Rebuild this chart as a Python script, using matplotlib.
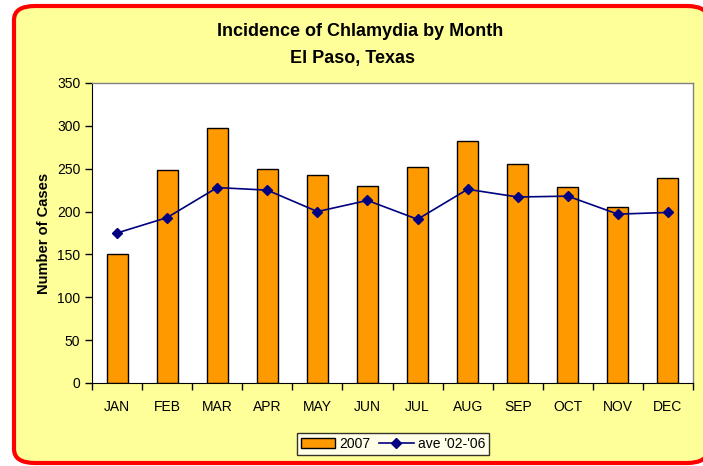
import matplotlib
matplotlib.use("Agg")
import matplotlib.pyplot as plt
from matplotlib.patches import FancyBboxPatch
from matplotlib.lines import Line2D
from matplotlib.patches import Patch
import numpy as np

months = ["JAN", "FEB", "MAR", "APR", "MAY", "JUN",
          "JUL", "AUG", "SEP", "OCT", "NOV", "DEC"]
cases_2007 = [150, 249, 298, 250, 243, 230, 252, 282, 255, 229, 205, 239]
ave_02_06 = [175, 193, 228, 225, 200, 213, 191, 226, 217, 218, 197, 199]

plt.rcParams["font.family"] = ["Liberation Sans", "DejaVu Sans"]

fig = plt.figure(figsize=(7.03, 4.66), dpi=100)
fig.patch.set_facecolor("white")

# rounded yellow chart area with red border (right edge runs off the image)
frame = FancyBboxPatch((14 / 703, 3 / 466), 694 / 703, 457 / 466,
                       boxstyle="round,pad=0,rounding_size=0.03",
                       transform=fig.transFigure, facecolor="#FFFF99",
                       edgecolor="#FF0000", linewidth=3, zorder=-1)
fig.patches.append(frame)

ax = fig.add_axes([92 / 703, 1 - 383 / 466, 601 / 703, 300 / 466])
ax.set_zorder(1)
ax.set_facecolor("white")

x = np.arange(len(months))
ax.bar(x, cases_2007, width=0.42, color="#FF9900", edgecolor="black",
       linewidth=1, zorder=2)
ax.plot(x, ave_02_06, color="#000080", marker="D", markersize=5,
        linewidth=1.2, zorder=3)

ax.set_xlim(-0.5, len(months) - 0.5)
ax.set_ylim(0, 350)
ax.set_yticks(range(0, 351, 50))
ax.set_xticks(x)
ax.set_xticklabels(months, fontsize=10)
ax.set_xticks(np.arange(-0.5, len(months), 1), minor=True)
ax.tick_params(axis="x", which="major", length=0, pad=12)
ax.tick_params(axis="x", which="minor", length=5, direction="out", width=1)
ax.tick_params(axis="y", length=5, direction="out", width=1, labelsize=10)

for side in ["top", "right"]:
    ax.spines[side].set_color("#808080")
    ax.spines[side].set_linewidth(1)
ax.spines["left"].set_color("black")
ax.spines["bottom"].set_color("black")

ax.set_ylabel("Number of Cases", fontsize=10.5, fontweight="bold", labelpad=4)

fig.text(360 / 703, 1 - 32 / 466, "Incidence of Chlamydia by Month",
         ha="center", va="center", fontsize=13, fontweight="bold")
fig.text(353 / 703, 1 - 58 / 466, "El Paso, Texas",
         ha="center", va="center", fontsize=13, fontweight="bold")

handles = [Patch(facecolor="#FF9900", edgecolor="black", label="2007"),
           Line2D([0], [0], color="#000080", marker="D", markersize=5,
                  linewidth=1.2, label="ave '02-'06")]
leg = fig.legend(handles=handles, loc="center", ncol=2,
                 bbox_to_anchor=(393 / 703, 1 - 444 / 466),
                 fontsize=10, frameon=True, fancybox=False,
                 handlelength=2.5, handletextpad=0.3, columnspacing=0.6,
                 borderpad=0.3)
leg.get_frame().set_edgecolor("black")
leg.get_frame().set_facecolor("white")
leg.get_frame().set_linewidth(1)

fig.savefig("out.png", dpi=100)
